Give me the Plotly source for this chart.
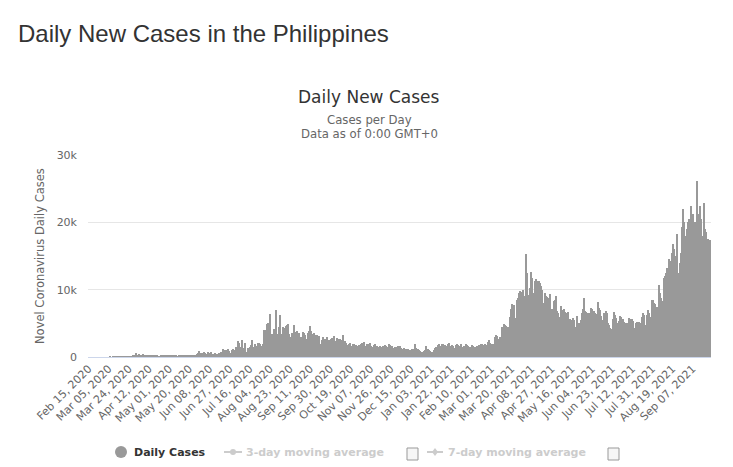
import pandas as pd
import plotly.graph_objects as go

# daily new cases, Philippines
start_date = "2020-02-15"

cases_feb_2020 = [0] * 15
cases_mar_2020 = [0, 0, 0, 0, 0, 2, 0, 0, 14, 0, 16, 3, 19, 47, 12, 29, 45, 15, 15, 13,
                  77, 73, 82, 90, 84, 71, 96, 272, 343, 128, 538]
cases_apr_2020 = [227, 322, 385, 76, 152, 414, 343, 104, 206, 119, 220, 233, 284, 291, 140,
                  207, 218, 209, 172, 200, 140, 111, 271, 211, 102, 285, 198, 254, 181, 276]
cases_may_2020 = [284, 156, 295, 262, 199, 320, 120, 167, 147, 180, 292, 163, 264, 268, 215,
                  258, 205, 208, 213, 224, 279, 180, 215, 258, 350, 284, 380, 539, 862, 590, 539]
cases_jun_2020 = [552, 359, 751, 634, 244, 518, 714, 579, 443, 740, 450, 427, 593, 457, 490,
                  252, 555, 657, 763, 768, 1150, 985, 1002, 1044, 767, 1177, 883, 653, 985, 1258]
cases_jul_2020 = [1080, 294, 1531, 1482, 2434, 2099, 1540, 1532, 2539, 1233, 1387, 2124, 747,
                  634, 1392, 1475, 1841, 2498, 1469, 1525, 1951, 1661, 1581, 2103, 2110, 1987,
                  1678, 1589, 1874, 3954, 4063]
cases_aug_2020 = [4963, 5032, 3226, 6352, 3462, 3379, 3486, 4226, 3109, 6958, 2987, 3449, 4444,
                  6216, 3420, 3314, 4432, 4351, 4650, 4786, 4933, 3451, 2378, 2965, 3638, 3440,
                  4729, 3725, 3366, 3841, 3539]
cases_sep_2020 = [3500, 2500, 3000, 3700, 3600, 3300, 1400, 2700, 3500, 3800, 4550, 3900, 3400,
                  2400, 3500, 3200, 3100, 3300, 3000, 3100, 2000, 2500, 2900, 2200, 2700, 2600,
                  3000, 2000, 2500, 2400]
cases_oct_2020 = [2600, 2800, 2300, 3100, 2400, 2200, 2800, 2700, 2600, 2500, 2000, 3200, 2300,
                  2400, 2100, 1800, 1750, 1900, 2150, 1600, 1700, 2000, 1900, 1750, 1650, 1500,
                  1800, 1850, 1900, 2050, 1750]
cases_nov_2020 = [2200, 1500, 1700, 1900, 2000, 1750, 2100, 1600, 1500, 1800, 1900, 1650, 1700,
                  1400, 1500, 1600, 1300, 1450, 1700, 1500, 1800, 1600, 1350, 1500, 2000, 1800,
                  1600, 1400, 1300, 1500]
cases_dec_2020 = [1300, 1550, 1700, 1400, 1650, 1300, 1200, 1100, 1350, 1200, 1150, 1050, 1200,
                  1000, 1100, 1250, 1200, 1050, 1900, 1300, 1100, 1200, 1000, 900, 700, 600, 800,
                  900, 1000, 1600, 1200]
cases_jan_2021 = [1100, 900, 700, 600, 750, 1000, 1300, 1500, 1200, 1800, 1900, 1700, 1500, 1900,
                  2000, 1800, 1600, 1400, 1900, 2100, 1700, 1500, 1800, 1700, 1300, 1400, 1800,
                  2000, 1800, 1700, 1500]
cases_feb_2021 = [1900, 1500, 1700, 1600, 1900, 1800, 1650, 1500, 1400, 1450, 1800, 1700, 1500,
                  1200, 1500, 1700, 1600, 1750, 1900, 2000, 1500, 1800, 1950, 1750, 1600, 2300,
                  2500, 2100]
cases_mar_2021 = [1900, 1900, 1800, 1900, 3000, 3250, 3100, 2600, 3000, 2900, 4400, 4500, 4900,
                  4750, 4600, 4300, 4400, 4500, 5900, 7100, 7850, 7000, 7700, 5750, 8500, 8800,
                  9500, 9750, 9600, 9250, 10000]
cases_apr_2021 = [8750, 9000, 15300, 12500, 9250, 6250, 10250, 12600, 11750, 9500, 11250, 11650,
                  8600, 11350, 11350, 11000, 10500, 10000, 7350, 8000, 9500, 9000, 8850, 8700,
                  8500, 9350, 7100, 7000, 8300, 8500]
cases_may_2021 = [9100, 6850, 6500, 5600, 6000, 7600, 7000, 6850, 7100, 6700, 4600, 6500, 6700,
                  5700, 5500, 4600, 5800, 5500, 4350, 4500, 6100, 5000, 3700, 5100, 5500, 6600,
                  7200, 8700, 6850, 6700, 6600]
cases_jun_2021 = [5200, 6500, 7350, 7100, 6800, 6850, 6500, 5100, 6400, 8100, 7350, 7000, 6100,
                  5500, 5100, 6600, 6850, 6500, 5100, 4800, 4350, 4000, 4200, 5600, 6700, 6200,
                  5800, 4350, 5000, 5350]
cases_jul_2021 = [6100, 6000, 5600, 5200, 3850, 5100, 5000, 4200, 5850, 5700, 5500, 5600, 5400,
                  3500, 4300, 5000, 5250, 4900, 5200, 5100, 6000, 6500, 6200, 4500, 4700, 6250,
                  7000, 6600, 4250, 6000, 8500]
cases_aug_2021 = [8400, 8000, 7800, 6750, 7500, 10750, 9500, 8750, 8000, 8250, 11750, 12000,
                  12500, 13250, 12800, 14500, 14300, 14250, 15500, 16750, 16000, 15000, 18250,
                  11750, 12500, 14000, 15500, 19250, 22000, 20000, 18000]
cases_sep_2021 = [13750, 19000, 20000, 20500, 20000, 22500, 18000, 21250, 20000, 18000, 26150,
                  21250, 20500, 22500, 20500, 17250, 18000, 22800, 19000, 18500, 17250, 17500,
                  15500, 17350]

tick_labels = ["Feb 15, 2020", "Mar 05, 2020", "Mar 24, 2020", "Apr 12, 2020", "May 01, 2020",
               "May 20, 2020", "Jun 08, 2020", "Jun 27, 2020", "Jul 16, 2020", "Aug 04, 2020",
               "Aug 23, 2020", "Sep 11, 2020", "Sep 30, 2020", "Oct 19, 2020", "Nov 07, 2020",
               "Nov 26, 2020", "Dec 15, 2020", "Jan 03, 2021", "Jan 22, 2021", "Feb 10, 2021",
               "Mar 01, 2021", "Mar 20, 2021", "Apr 08, 2021", "Apr 27, 2021", "May 16, 2021",
               "Jun 04, 2021", "Jun 23, 2021", "Jul 12, 2021", "Jul 31, 2021", "Aug 19, 2021",
               "Sep 07, 2021"]
y_ticks = [0, 10000, 20000, 30000]
y_tick_labels = ["0", "10k", "20k", "30k"]

daily_cases = (cases_feb_2020 + cases_mar_2020 + cases_apr_2020 + cases_may_2020 + cases_jun_2020
               + cases_jul_2020 + cases_aug_2020 + cases_sep_2020 + cases_oct_2020 + cases_nov_2020
               + cases_dec_2020 + cases_jan_2021 + cases_feb_2021 + cases_mar_2021 + cases_apr_2021
               + cases_may_2021 + cases_jun_2021 + cases_jul_2021 + cases_aug_2021 + cases_sep_2021)
dates = pd.date_range(start_date, periods=len(daily_cases), freq="D").strftime("%b %d, %Y").tolist()

# the page body adds an 8px margin, so the figure is 8px smaller and everything is laid out
# in reference-pixel coordinates shifted by that margin
OFF = 8
W, H = 733 - OFF, 467 - OFF
L, R, T, B = 88 - OFF, 22, 155 - OFF, 110
PW, PH = W - L - R, H - T - B


def px(x):
    return (x - OFF - L) / PW


def py(y):
    return (H - B - (y - OFF)) / PH


CHART_FONT = "DejaVu Sans, Lucida Grande, sans-serif"

fig = go.Figure()
fig.add_trace(go.Bar(x=dates, y=daily_cases, marker=dict(color="#999999", line=dict(width=0)),
                     name="Daily Cases", showlegend=False))

fig.update_layout(
    width=W, height=H,
    margin=dict(l=L, r=R, t=T, b=B),
    paper_bgcolor="white", plot_bgcolor="white",
    bargap=0,
    font=dict(family=CHART_FONT, color="#666666", size=11),
    xaxis=dict(type="category", tickmode="array", tickvals=tick_labels, ticktext=tick_labels,
               tickangle=-45, showgrid=False, showline=True, linecolor="#ccd6eb", linewidth=1,
               ticks="", tickfont=dict(size=11, color="#666666")),
    yaxis=dict(range=[0, 30000], tickvals=y_ticks, ticktext=y_tick_labels, gridcolor="#e6e6e6",
               zeroline=False, showline=False, ticks="", ticklabelstandoff=10,
               tickfont=dict(size=11, color="#666666")),
)

annotations = [
    dict(text="Daily New Cases in the Philippines", x=px(16), y=py(34), xanchor="left", yanchor="middle",
         font=dict(family="Liberation Sans, Arial", size=24, color="#333333")),
    dict(text="Daily New Cases", x=px(369), y=py(97), xanchor="center", yanchor="middle",
         font=dict(family=CHART_FONT, size=17, color="#333333")),
    dict(text="Cases per Day", x=px(369), y=py(120), xanchor="center", yanchor="middle",
         font=dict(family=CHART_FONT, size=11.7, color="#666666")),
    dict(text="Data as of 0:00 GMT+0", x=px(369), y=py(134), xanchor="center", yanchor="middle",
         font=dict(family=CHART_FONT, size=11.7, color="#666666")),
    dict(text="Novel Coronavirus Daily Cases", x=px(40), y=py(256), textangle=-90,
         xanchor="center", yanchor="middle", font=dict(family=CHART_FONT, size=11.5, color="#666666")),
    dict(text="<b>Daily Cases</b>", x=px(132), y=py(452), xanchor="left", yanchor="middle",
         font=dict(family=CHART_FONT, size=11, color="#333333")),
    dict(text="<b>3-day moving average</b>", x=px(244), y=py(452), xanchor="left", yanchor="middle",
         font=dict(family=CHART_FONT, size=11, color="#cccccc")),
    dict(text="<b>7-day moving average</b>", x=px(446), y=py(452), xanchor="left", yanchor="middle",
         font=dict(family=CHART_FONT, size=11, color="#cccccc")),
]
for a in annotations:
    a.update(xref="paper", yref="paper", showarrow=False)
fig.update_layout(annotations=annotations)

shapes = [
    # legend symbols
    dict(type="circle", x0=px(115), x1=px(127), y0=py(446), y1=py(458),
         fillcolor="#999999", line=dict(width=0)),
    dict(type="line", x0=px(224), x1=px(242), y0=py(452), y1=py(452), line=dict(color="#cccccc", width=2)),
    dict(type="circle", x0=px(230), x1=px(236), y0=py(449), y1=py(455),
         fillcolor="#cccccc", line=dict(width=0)),
    dict(type="line", x0=px(427), x1=px(443), y0=py(452), y1=py(452), line=dict(color="#cccccc", width=2)),
    dict(type="path", path="M {} {} L {} {} L {} {} L {} {} Z".format(
        px(435), py(448), px(438), py(452), px(435), py(456), px(432), py(452)),
         fillcolor="#cccccc", line=dict(width=0)),
    # checkboxes
    dict(type="rect", x0=px(407), x1=px(418), y0=py(448), y1=py(460),
         fillcolor="#f6f6f6", line=dict(color="#999999", width=1)),
    dict(type="rect", x0=px(608), x1=px(619), y0=py(448), y1=py(460),
         fillcolor="#f6f6f6", line=dict(color="#999999", width=1)),
]
for s in shapes:
    s.update(xref="paper", yref="paper")
fig.update_layout(shapes=shapes)

fig.write_html("out.html")
